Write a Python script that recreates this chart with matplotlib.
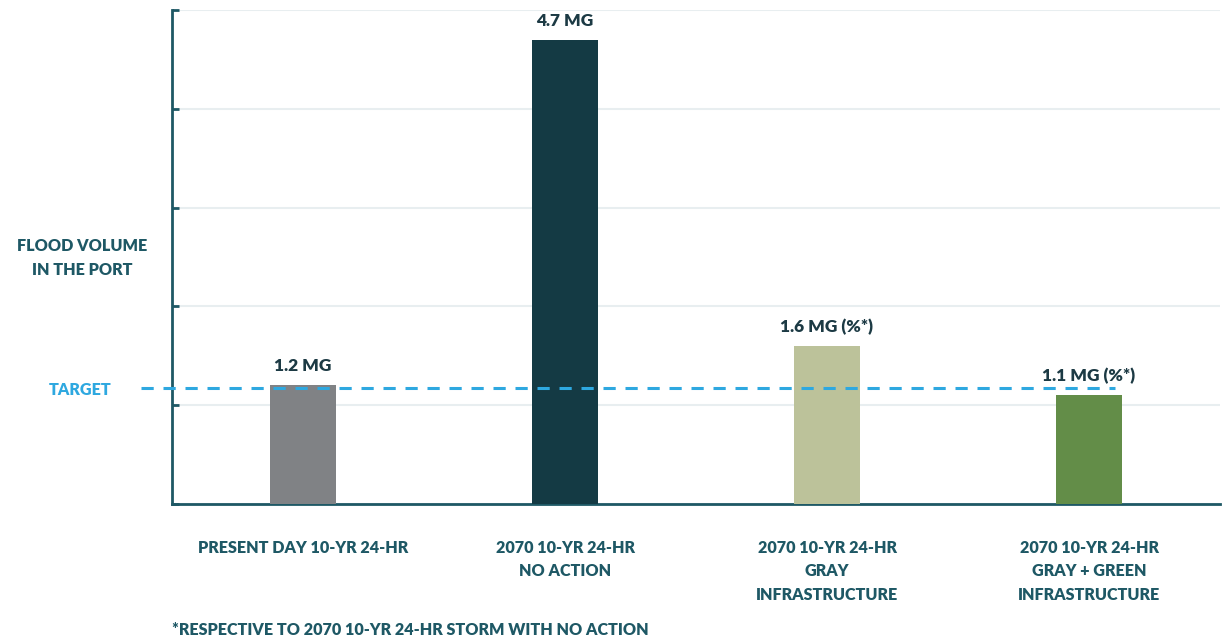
import matplotlib
matplotlib.use("Agg")
import matplotlib.pyplot as plt

categories = ["PRESENT DAY 10-YR 24-HR", "2070 10-YR 24-HR\nNO ACTION",
              "2070 10-YR 24-HR\nGRAY\nINFRASTRUCTURE", "2070 10-YR 24-HR\nGRAY + GREEN\nINFRASTRUCTURE"]
values = [1.2, 4.7, 1.6, 1.1]
value_labels = ["1.2 MG", "4.7 MG", "1.6 MG (%*)", "1.1 MG (%*)"]
bar_colors = ["#808285", "#143A44", "#BCC29A", "#638D48"]
target_value = 1.17

plt.rcParams['font.family'] = ['Lato', 'DejaVu Sans']
teal = "#1E5865"
dark = "#1C3A44"
W = 'heavy'

fig = plt.figure(figsize=(12.24, 6.39), dpi=100)
ax = fig.add_axes([172/1224, 1-504/639, (1220-172)/1224, (504-10)/639])

x = list(range(len(values)))
ax.bar(x, values, width=0.25, color=bar_colors, zorder=3)
ax.set_xlim(-0.5, 3.5)
ax.set_ylim(0, 5)
ax.set_yticks([0, 1, 2, 3, 4, 5])
ax.set_yticklabels([])
ax.set_xticks([])
ax.grid(axis='y', color="#E8EEF0", linewidth=1.5, zorder=0)
for s in ['top', 'right']:
    ax.spines[s].set_visible(False)
for s in ['left', 'bottom']:
    ax.spines[s].set_color(teal)
    ax.spines[s].set_linewidth(2)
ax.tick_params(axis='y', direction='in', length=5, width=2, color=teal)

for xi, v, lab in zip(x, values, value_labels):
    ax.annotate(lab, (xi, v), xytext=(0, 8), textcoords='offset points',
                ha='center', va='bottom', fontsize=12.5, fontweight=W, color=dark, zorder=5)

# target line extending left beyond the axis
ax.plot([-0.62, 3.1], [target_value, target_value], linestyle=(0, (4, 3.2)), color="#2EA8E0",
        linewidth=2.2, clip_on=False, zorder=4)

for xi, c in zip(x, categories):
    ax.text(xi, -0.36, c, ha='center', va='top', fontsize=11.6, fontweight=W, color=teal,
            linespacing=1.6)

fig.text(82/1224, 1-258/639, "FLOOD VOLUME\nIN THE PORT", ha='center', va='center',
         fontsize=11.6, fontweight=W, color=teal, linespacing=1.6)
fig.text(80/1224, 1-390/639, "TARGET", ha='center', va='center',
         fontsize=11.6, fontweight=W, color="#2EA8E0")
fig.text(172/1224, 1-630/639, "*RESPECTIVE TO 2070 10-YR 24-HR STORM WITH NO ACTION", ha='left', va='center',
         fontsize=11.6, fontweight=W, color=teal)

fig.savefig("out.png", dpi=100)
